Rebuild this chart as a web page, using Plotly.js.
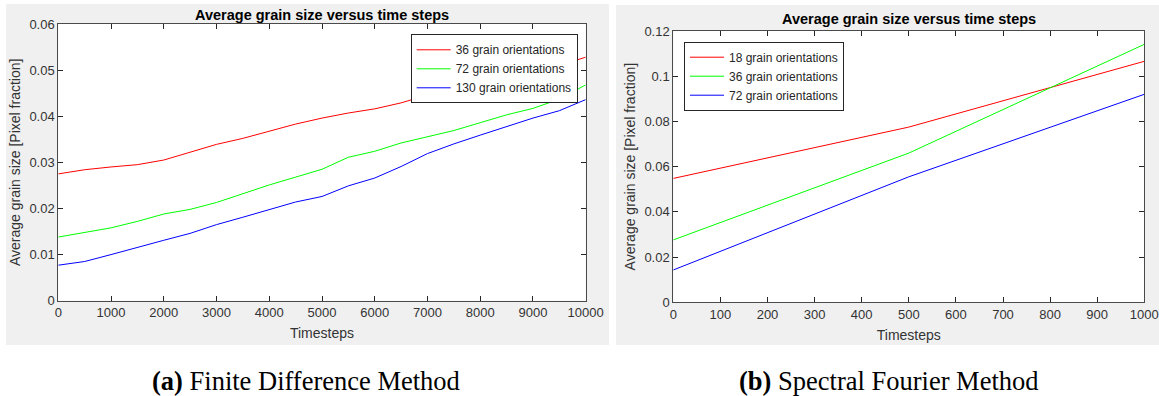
<!DOCTYPE html>
<html>
<head>
<meta charset="utf-8">
<script src="https://cdn.plot.ly/plotly-3.0.1.min.js"></script>
<style>
  html, body { margin: 0; padding: 0; background: #ffffff; }
  #chart { width: 1159px; height: 396px; }
</style>
</head>
<body>
<div id="chart"></div>
<script>
// ---- Panel (a): Finite Difference Method ----
const fdTimesteps = [0, 500, 1000, 1500, 2000, 2500, 3000, 3500, 4000, 4500, 5000,
                     5500, 6000, 6500, 7000, 7500, 8000, 8500, 9000, 9500, 10000];
const fd36 = [0.0275, 0.0284, 0.0290, 0.0295, 0.0305, 0.0322, 0.0339, 0.0352, 0.0367, 0.0383, 0.0396,
              0.0407, 0.0416, 0.0429, 0.0446, 0.0460, 0.0471, 0.0484, 0.0496, 0.0510, 0.0528];
const fd72 = [0.0138, 0.0148, 0.0158, 0.0172, 0.0188, 0.0198, 0.0213, 0.0232, 0.0251, 0.0268, 0.0285,
              0.0311, 0.0324, 0.0342, 0.0355, 0.0369, 0.0386, 0.0403, 0.0417, 0.0437, 0.0468];
const fd130 = [0.0077, 0.0085, 0.0100, 0.0116, 0.0131, 0.0146, 0.0165, 0.0181, 0.0197, 0.0214, 0.0226,
               0.0249, 0.0266, 0.0291, 0.0319, 0.0340, 0.0359, 0.0378, 0.0396, 0.0412, 0.0436];
const fdNames = ['36 grain orientations', '72 grain orientations', '130 grain orientations'];

// ---- Panel (b): Spectral Fourier Method ----
const sfTimesteps = [0, 500, 1000];
const sf18 = [0.0548, 0.0775, 0.1066];
const sf36 = [0.0276, 0.0660, 0.1141];
const sf72 = [0.0143, 0.0555, 0.0920];
const sfNames = ['18 grain orientations', '36 grain orientations', '72 grain orientations'];

const chartTitle = 'Average grain size versus time steps';
const xTitle = 'Timesteps';
const yTitle = 'Average grain size [Pixel fraction]';
const captionA = '<b>(a)</b> Finite Difference Method';
const captionB = '<b>(b)</b> Spectral Fourier Method';

const colors = ['#ff0000', '#00ff00', '#0000ff'];

const W = 1159, H = 396;
const px = v => v / W;            // x pixel -> paper
const py = v => (H - v) / H;      // y pixel (from top) -> paper

const traces = [];
[fd36, fd72, fd130].forEach((ys, i) => {
  traces.push({
    type: 'scatter', mode: 'lines', x: fdTimesteps, y: ys, name: fdNames[i],
    xaxis: 'x', yaxis: 'y', legend: 'legend',
    line: { color: colors[i], width: 1 }
  });
});
[sf18, sf36, sf72].forEach((ys, i) => {
  traces.push({
    type: 'scatter', mode: 'lines', x: sfTimesteps, y: ys, name: sfNames[i],
    xaxis: 'x2', yaxis: 'y2', legend: 'legend2',
    line: { color: colors[i], width: 1 }
  });
});

const axisColor = '#262626';
const sans = 'Liberation Sans, Arial, sans-serif';
const tickFont = { family: sans, size: 13, color: '#333333' };
const titleFont = { family: sans, size: 14, color: '#333333' };

function axisBase(extra) {
  return Object.assign({
    showline: true, linecolor: '#4a4a4a', linewidth: 1, mirror: 'ticks',
    ticks: 'inside', ticklen: 5, tickcolor: axisColor, tickwidth: 1,
    showgrid: false, zeroline: false, automargin: false,
    tickfont: tickFont, fixedrange: true, ticklabeloverflow: 'allow'
  }, extra);
}

const legendBase = {
  bgcolor: '#ffffff', bordercolor: axisColor, borderwidth: 1,
  font: { family: sans, size: 12, color: '#262626' },
  xanchor: 'left', yanchor: 'top', itemwidth: 34, tracegroupgap: 0
};

const layout = {
  width: W, height: H,
  margin: { l: 0, r: 0, t: 0, b: 0 },
  paper_bgcolor: '#ffffff',
  plot_bgcolor: '#ffffff',
  showlegend: true,
  xaxis: axisBase({ domain: [px(58.3), px(585.7)], range: [0, 10000], dtick: 1000, tickformat: 'd',
                    anchor: 'y', title: { text: xTitle, font: titleFont, standoff: 8 } }),
  yaxis: axisBase({ domain: [py(300.7), py(24)], range: [0, 0.06], dtick: 0.01, anchor: 'x',
                    title: { text: yTitle, font: titleFont, standoff: 5 } }),
  xaxis2: axisBase({ domain: [px(673.3), px(1144.3)], range: [0, 1000], dtick: 100, tickformat: 'd',
                     anchor: 'y2', title: { text: xTitle, font: titleFont, standoff: 9 } }),
  yaxis2: axisBase({ domain: [py(302.3), py(31)], range: [0, 0.12], dtick: 0.02, anchor: 'x2',
                     title: { text: yTitle, font: titleFont, standoff: 5 } }),
  legend: Object.assign({}, legendBase, { x: px(410.7), y: py(34.3) }),
  legend2: Object.assign({}, legendBase, { x: px(684), y: py(41.7) }),
  shapes: [
    { type: 'rect', xref: 'paper', yref: 'paper', layer: 'below',
      x0: px(6), x1: px(609), y0: py(345), y1: py(4), fillcolor: '#f0f0f0', line: { width: 0 } },
    { type: 'rect', xref: 'paper', yref: 'paper', layer: 'below',
      x0: px(616), x1: 1, y0: py(345), y1: py(5), fillcolor: '#f0f0f0', line: { width: 0 } },
    { type: 'rect', xref: 'x domain', yref: 'y domain', layer: 'below',
      x0: 0, x1: 1, y0: 0, y1: 1, fillcolor: '#ffffff', line: { width: 0 } },
    { type: 'rect', xref: 'x2 domain', yref: 'y2 domain', layer: 'below',
      x0: 0, x1: 1, y0: 0, y1: 1, fillcolor: '#ffffff', line: { width: 0 } }
  ],
  annotations: [
    { text: chartTitle, xref: 'paper', yref: 'paper', x: px(322), y: py(15),
      xanchor: 'center', yanchor: 'middle', showarrow: false,
      font: { family: sans, size: 14.5, color: '#000000', weight: 'bold' } },
    { text: chartTitle, xref: 'paper', yref: 'paper', x: px(908.7), y: py(19),
      xanchor: 'center', yanchor: 'middle', showarrow: false,
      font: { family: sans, size: 14.5, color: '#000000', weight: 'bold' } },
    { text: captionA, xref: 'paper', yref: 'paper', x: px(306), y: py(381),
      xanchor: 'center', yanchor: 'middle', showarrow: false,
      font: { family: 'Liberation Serif, Times New Roman, serif', size: 26.5, color: '#000000' } },
    { text: captionB, xref: 'paper', yref: 'paper', x: px(889), y: py(381),
      xanchor: 'center', yanchor: 'middle', showarrow: false,
      font: { family: 'Liberation Serif, Times New Roman, serif', size: 26.5, color: '#000000' } }
  ]
};

Plotly.newPlot('chart', traces, layout, { displayModeBar: false, staticPlot: true });
</script>
</body>
</html>
